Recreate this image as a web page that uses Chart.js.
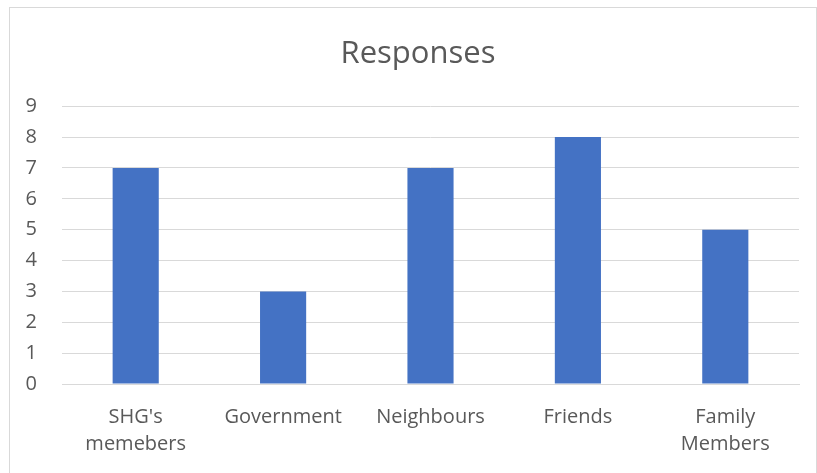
<!DOCTYPE html>
<html>
<head>
<meta charset="utf-8">
<script src="https://cdn.jsdelivr.net/npm/chart.js@4"></script>
<style>
  body { margin: 0; background: #fff; overflow: hidden; }
  #frame { position: absolute; left: 9px; top: 7px; width: 806px; height: 480px; border: 1px solid #d9d9d9; }
  #wrap { position: absolute; left: 10px; top: 8px; width: 806px; height: 465px; }
</style>
</head>
<body>
<div id="frame"></div>
<div id="wrap"><canvas id="chart"></canvas></div>
<script>
    // chart data
    const categories = [["SHG's", "memebers"], "Government", "Neighbours", "Friends", ["Family", "Members"]];
    const responses = [7, 3, 7, 8, 5];
    const yTicks = [0, 1, 2, 3, 4, 5, 6, 7, 8, 9];

    const textColor = '#595959';
    const gridColor = '#d9d9d9';

    new Chart(document.getElementById('chart'), {
        type: 'bar',
        data: {
            labels: categories,
            datasets: [{
                label: 'Responses',
                data: responses,
                backgroundColor: '#4472c4',
                borderWidth: 0,
                categoryPercentage: 1,
                barPercentage: 0.313
            }]
        },
        options: {
            responsive: true,
            maintainAspectRatio: false,
            animation: false,
            layout: { padding: { left: 10, right: 0, top: 0, bottom: 0 } },
            plugins: {
                legend: { display: false },
                tooltip: { enabled: false },
                title: {
                    display: true,
                    text: 'Responses',
                    color: textColor,
                    font: { family: 'Open Sans', size: 31, weight: 'normal' },
                    padding: { top: 28, bottom: 33 }
                }
            },
            scales: {
                x: {
                    grid: { display: false, drawTicks: false },
                    border: { display: true, color: gridColor, width: 1 },
                    ticks: {
                        color: textColor,
                        font: { family: 'Open Sans', size: 20, lineHeight: 1.35 },
                        padding: 20,
                        maxRotation: 0,
                        autoSkip: false
                    },
                    afterFit: scale => { scale.height = 89; }
                },
                y: {
                    min: 0,
                    max: 9,
                    grid: { color: gridColor, lineWidth: 1, drawTicks: false },
                    border: { display: false },
                    afterBuildTicks: scale => { scale.ticks = yTicks.map(v => ({ value: v })); },
                    ticks: {
                        color: textColor,
                        font: { family: 'Open Sans', size: 20 },
                        padding: 25
                    },
                    afterFit: scale => { scale.width = 42; }
                },
                // empty right-hand axis, only keeps the gap at the right side
                yRight: {
                    position: 'right',
                    display: true,
                    grid: { display: false, drawTicks: false },
                    border: { display: false },
                    ticks: { display: false },
                    afterFit: scale => { scale.width = 17; }
                }
            }
        }
    });
</script>
</body>
</html>
